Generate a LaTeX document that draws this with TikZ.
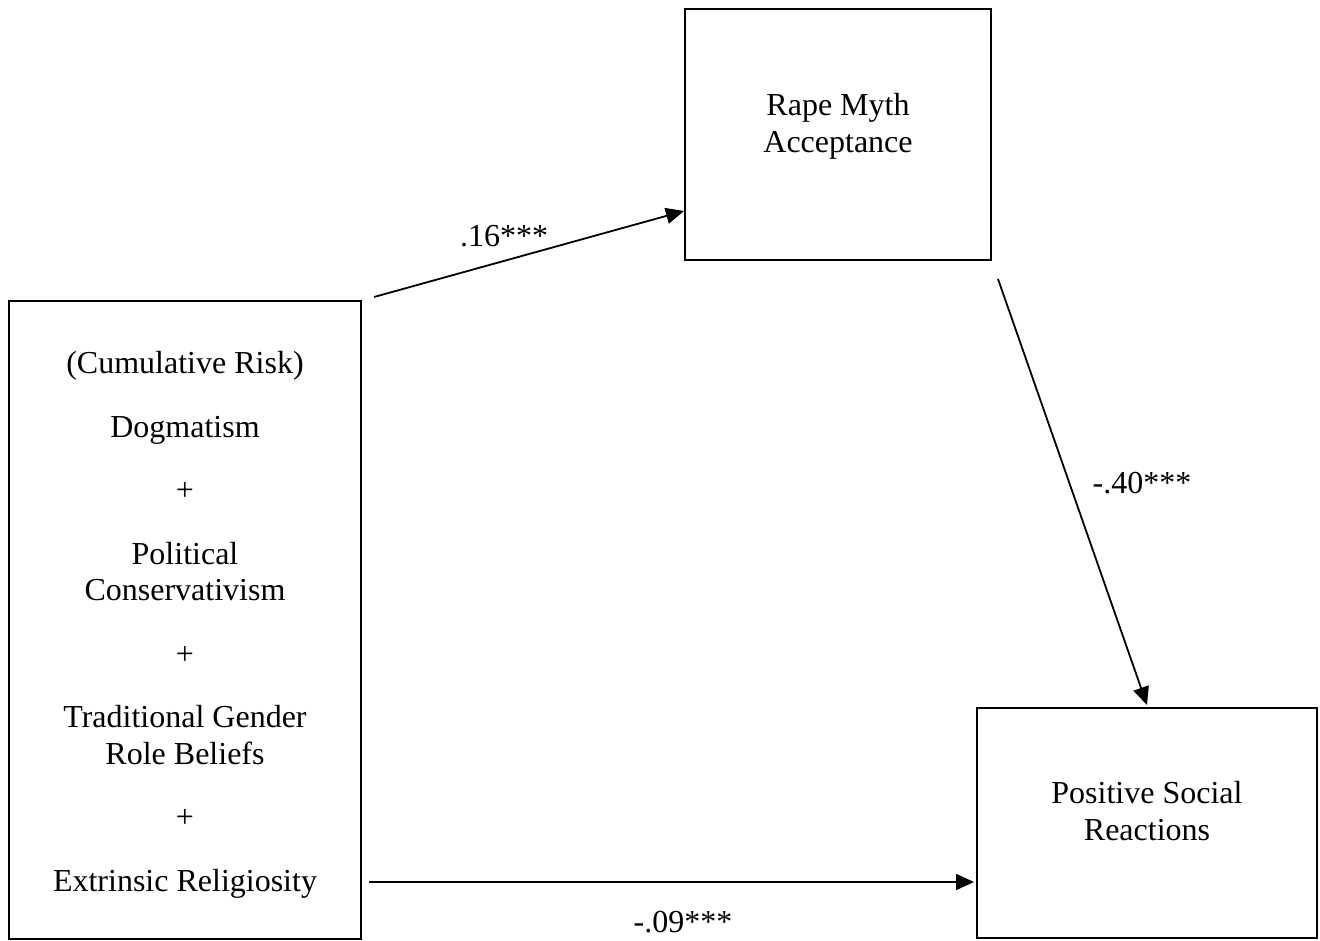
\documentclass[tikz,border=0pt]{standalone}
\usepackage{fontspec}
\setmainfont{Liberation Serif}
\usepackage{tikz}
\usetikzlibrary{arrows.meta,calc}

\begin{document}
\begin{tikzpicture}[x=1pt,y=-1pt,
  box/.style={draw,line width=2pt,rectangle,inner sep=0pt},
  txt/.style={align=center,inner sep=0pt,font=\fontsize{32}{36.5}\selectfont},
  link/.style={line width=1.8pt,-{Triangle[length=18pt,width=16pt]}}]
\useasboundingbox (0,0) rectangle (1320,941);
\node[box,minimum width=352pt,minimum height=638pt] (risk) at (185,620) {};
\node[txt] (risktext) at ([yshift=-5pt]risk.center) {(Cumulative Risk)\\[27pt]Dogmatism\\[27pt]+\\[27pt]Political\\Conservativism\\[27pt]+\\[27pt]Traditional Gender\\Role Beliefs\\[27pt]+\\[27pt]Extrinsic Religiosity};
\node[box,minimum width=306pt,minimum height=251pt] (rma) at (838,134.5) {};
\node[txt] (rmatext) at ([yshift=8pt]rma.center) {Rape Myth\\Acceptance};
\node[box,minimum width=340pt,minimum height=230pt] (psr) at (1147,823) {};
\node[txt] (psrtext) at ([yshift=12pt]psr.center) {Positive Social\\Reactions};
\draw[link] ($(risk.north east)+(12,-3)$) -- ($(rma.south west)+(0,-50)$);
\draw[link] ($(rma.south east)+(6,18)$) -- ($(psr.north)+(0,-2)$);
\draw[link] ($(risk.east)+(7,262)$) -- ($(psr.west)+(-2,59)$);
\node[txt,anchor=base] (b1) at (504,247) {.16***};
\node[txt,anchor=base] (b2) at (1142,493) {-.40***};
\node[txt,anchor=base] (b3) at (683,932) {-.09***};
\end{tikzpicture}
\end{document}
